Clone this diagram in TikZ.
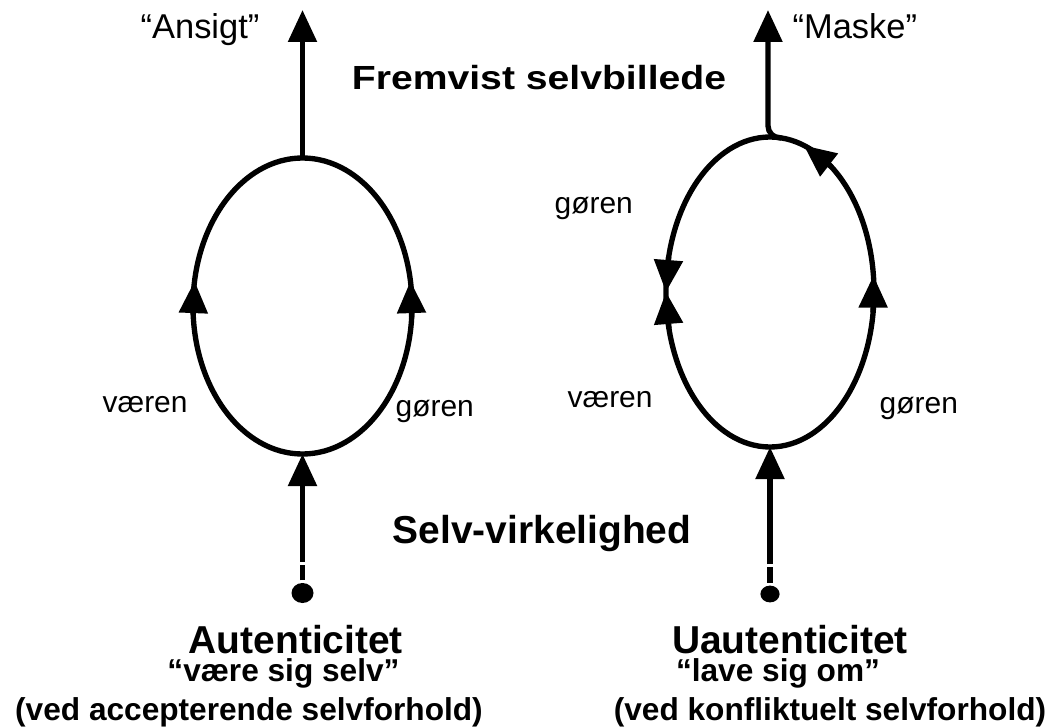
\documentclass[tikz,border=0pt]{standalone}
\usepackage{fontspec}
\setmainfont{Liberation Sans}
\usepackage{graphicx}
\usetikzlibrary{arrows.meta, shapes.geometric, positioning}

\begin{document}
\begin{tikzpicture}[
    line width=3.8pt,
    flow/.style={-{Triangle[length=0.8cm, width=0.7cm]}},
    oval/.style={ellipse, draw, inner sep=0, outer sep=0},
    dot/.style={ellipse, fill, inner sep=0},
    lbl/.style={inner sep=0, font=\fontsize{21.3}{24}\selectfont},
    quote/.style={inner sep=0, font=\fontsize{24.5}{28}\selectfont},
    head/.style={inner sep=0, font=\bfseries\fontsize{27.7}{32}\selectfont},
    sub/.style={inner sep=0, font=\bfseries\fontsize{22.5}{26}\selectfont}
  ]
  \useasboundingbox (0,0) rectangle (26.425,18.15);

  % left loop: autenticitet
  \node (lell)[oval, minimum width=5.475cm, minimum height=7.4cm] at (7.5625,10.5) {};
  \node (ldot)[dot, minimum width=0.55cm, minimum height=0.5cm] at (7.5625,3.325) {};
  \coordinate (lgapa) at (7.5625,4.025);
  \coordinate (lgapb) at (7.5625,4.11);
  \coordinate (ltop) at (7.5625,17.9);

  \draw (ldot) -- (lgapa);
  \draw[flow] (lgapb) -- (lell.south);
  \draw[flow] (lell.north) -- (ltop);
  \draw[flow] (lell.185) -- (lell.167);
  \draw[flow] (lell.-6) -- (lell.13);

  \node (ansigt)[quote, anchor=base east] at (6.55,17.175) {“Ansigt”};
  \node (lvaeren)[lbl, anchor=base west] at (2.5,7.85) {væren};
  \node (lgoeren)[lbl, anchor=base west] at (9.825,7.75) {gøren};

  % right loop: uautenticitet
  \node (rell)[oval, minimum width=5.2cm, minimum height=7.75cm] at (19.25,10.85) {};
  \node (rdot)[dot, minimum width=0.48cm, minimum height=0.42cm] at (19.25,3.3) {};
  \coordinate (rgapa) at (19.25,3.97);
  \coordinate (rgapb) at (19.25,4.045);
  \coordinate (rtop) at (19.2,17.9);

  \draw (rdot) -- (rgapa);
  \draw[flow] (rgapb) -- (rell.south);
  \draw[flow, rounded corners=0.3cm] (rell.86) -| (rtop);
  \draw[flow] (rell.64.6) -- (rell.77.8);
  \draw[flow] (rell.161.5) -- (rell.180);
  \draw[flow] (rell.200) -- (rell.180);
  \draw[flow] (rell.-11) -- (rell.9.3);

  \node (maske)[quote, anchor=base west] at (19.75,17.175) {“Maske”};
  \node (rgoerenup)[lbl, anchor=base west] at (13.8,12.8) {gøren};
  \node (rvaeren)[lbl, anchor=base west] at (14.125,7.975) {væren};
  \node (rgoeren)[lbl, anchor=base west] at (21.925,7.825) {gøren};

  % headings
  \node (fremvist)[head, anchor=base, font=\bfseries\fontsize{23.8}{28}\selectfont] at (13.475,15.9)
    {\scalebox{1.17}[1]{Fremvist selvbillede}};
  \node (selv)[head, anchor=base] at (13.55,4.575) {Selv-virkelighed};

  \node (aut)[head, anchor=base, text depth=0pt] at (7.395,1.8175) {Autenticitet};
  \node (autb)[sub, anchor=base] at (7.0875,1.1075) {“være sig selv”};
  \node (autc)[sub, anchor=base] at (6.225,0.15) {(ved accepterende selvforhold)};

  \node (uaut)[head, anchor=base, text depth=0pt] at (19.75,1.8175) {Uautenticitet};
  \node (uautb)[sub, anchor=base] at (19.45,1.1075) {“lave sig om”};
  \node (uautc)[sub, anchor=base] at (20.75,0.15) {(ved konfliktuelt selvforhold)};
\end{tikzpicture}
\end{document}
